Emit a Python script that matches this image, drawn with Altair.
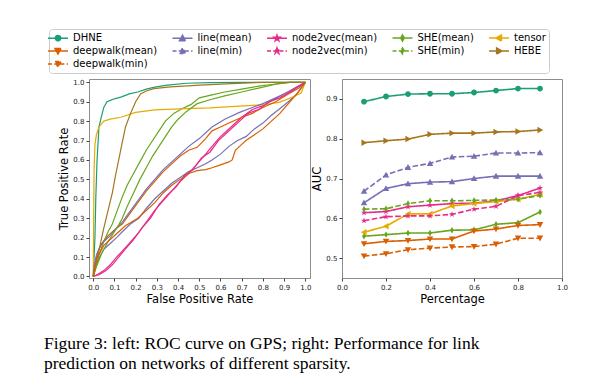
import altair as alt
import pandas as pd

# ---------------- data ----------------
methods = ["DHNE", "line(mean)", "node2vec(mean)", "SHE(mean)", "tensor",
           "deepwalk(mean)", "line(min)", "node2vec(min)", "SHE(min)", "HEBE",
           "deepwalk(min)"]
colors = ["#1b9e77", "#7570b3", "#e7298a", "#66a61e", "#e6ab02",
          "#d95f02", "#7570b3", "#e7298a", "#66a61e", "#a6761d",
          "#d95f02"]
markers = ["circle", "tri_up", "star", "thin_diamond", "tri_left",
           "tri_down", "tri_up", "star", "thin_diamond", "tri_right",
           "tri_down"]
dashed = [False, False, False, False, False,
          False, True, True, True, False,
          True]

# right panel: AUC vs percentage
percent = [0.1, 0.2, 0.3, 0.4, 0.5, 0.6, 0.7, 0.8, 0.9]
auc = {
    "DHNE":           [0.893, 0.906, 0.912, 0.913, 0.913, 0.916, 0.921, 0.926, 0.926],
    "HEBE":           [0.790, 0.795, 0.799, 0.811, 0.814, 0.814, 0.817, 0.818, 0.822],
    "line(min)":      [0.668, 0.709, 0.728, 0.738, 0.754, 0.756, 0.764, 0.764, 0.765],
    "line(mean)":     [0.639, 0.675, 0.687, 0.691, 0.692, 0.700, 0.706, 0.706, 0.706],
    "SHE(min)":       [0.623, 0.624, 0.637, 0.644, 0.644, 0.645, 0.646, 0.648, 0.657],
    "node2vec(mean)": [0.614, 0.617, 0.629, 0.633, 0.637, 0.638, 0.644, 0.657, 0.676],
    "node2vec(min)":  [0.594, 0.604, 0.606, 0.606, 0.610, 0.623, 0.630, 0.657, 0.665],
    "tensor":         [0.565, 0.580, 0.611, 0.611, 0.631, 0.637, 0.642, 0.648, 0.660],
    "SHE(mean)":      [0.555, 0.559, 0.563, 0.563, 0.570, 0.571, 0.585, 0.589, 0.616],
    "deepwalk(mean)": [0.536, 0.542, 0.544, 0.548, 0.548, 0.568, 0.573, 0.582, 0.584],
    "deepwalk(min)":  [0.505, 0.511, 0.521, 0.525, 0.528, 0.529, 0.535, 0.550, 0.550],
}

# left panel: ROC curves on GPS
roc_fpr = {
    "DHNE": [0, 0.008, 0.012, 0.018, 0.027, 0.04, 0.05, 0.065, 0.081, 0.1, 0.13, 0.17, 0.21, 0.25, 0.29, 0.35, 0.44, 0.55, 0.7, 1.0],
    "tensor": [0, 0.002, 0.004, 0.008, 0.015, 0.027, 0.05, 0.08, 0.13, 0.2, 0.29, 0.44, 0.55, 0.65, 0.75, 0.82, 0.88, 0.94, 0.98, 1.0],
    "HEBE": [0, 0.01, 0.03, 0.05, 0.07, 0.09, 0.105, 0.12, 0.135, 0.152, 0.176, 0.2, 0.223, 0.25, 0.286, 0.364, 0.505, 0.65, 0.8, 1.0],
    "SHE(mean)": [0, 0.01, 0.03, 0.05, 0.07, 0.09, 0.11, 0.137, 0.16, 0.19, 0.22, 0.25, 0.28, 0.31, 0.34, 0.38, 0.42, 0.46, 0.5, 0.56, 0.62, 0.7, 0.78, 0.85, 0.92, 1.0],
    "SHE(min)": [0, 0.015, 0.04, 0.07, 0.1, 0.121, 0.137, 0.16, 0.19, 0.22, 0.25, 0.28, 0.31, 0.34, 0.37, 0.4, 0.44, 0.49, 0.55, 0.62, 0.7, 0.78, 0.86, 0.93, 1.0],
    "line(min)": [0, 0.005, 0.015, 0.03, 0.05, 0.08, 0.11, 0.137, 0.17, 0.21, 0.25, 0.29, 0.33, 0.37, 0.41, 0.45, 0.5, 0.56, 0.62, 0.69, 0.75, 0.8, 0.86, 0.92, 0.97, 1.0],
    "line(mean)": [0, 0.01, 0.03, 0.05, 0.08, 0.11, 0.137, 0.175, 0.215, 0.25, 0.29, 0.33, 0.37, 0.41, 0.45, 0.49, 0.53, 0.56, 0.6, 0.64, 0.68, 0.72, 0.76, 0.8, 0.84, 0.875, 0.92, 0.96, 1.0],
    "deepwalk(mean)": [0, 0.01, 0.02, 0.04, 0.07, 0.1, 0.137, 0.17, 0.21, 0.25, 0.29, 0.33, 0.37, 0.41, 0.45, 0.49, 0.53, 0.56, 0.6, 0.64, 0.7, 0.75, 0.8, 0.86, 0.92, 0.97, 1.0],
    "deepwalk(min)": [0, 0.01, 0.02, 0.05, 0.08, 0.11, 0.15, 0.21, 0.25, 0.29, 0.33, 0.37, 0.41, 0.45, 0.49, 0.53, 0.56, 0.6, 0.64, 0.655, 0.67, 0.7, 0.72, 0.76, 0.8, 0.84, 0.88, 0.92, 0.96, 1.0],
    "node2vec(mean)": [0, 0.02, 0.05, 0.08, 0.11, 0.137, 0.17, 0.21, 0.25, 0.29, 0.33, 0.37, 0.41, 0.45, 0.49, 0.53, 0.56, 0.6, 0.65, 0.7, 0.75, 0.8, 0.85, 0.9, 0.95, 1.0],
    "node2vec(min)": [0, 0.03, 0.06, 0.09, 0.12, 0.15, 0.19, 0.23, 0.27, 0.31, 0.35, 0.39, 0.43, 0.47, 0.51, 0.55, 0.59, 0.63, 0.68, 0.73, 0.78, 0.83, 0.88, 0.93, 0.97, 1.0],
}
roc_tpr = {
    "DHNE": [0, 0.2, 0.4, 0.6, 0.77, 0.83, 0.872, 0.9, 0.907, 0.915, 0.924, 0.94, 0.95, 0.965, 0.975, 0.985, 0.995, 0.998, 1.0, 1.0],
    "tensor": [0, 0.3, 0.55, 0.68, 0.73, 0.77, 0.8, 0.81, 0.82, 0.845, 0.858, 0.864, 0.868, 0.875, 0.881, 0.886, 0.898, 0.924, 0.945, 1.0],
    "HEBE": [0, 0.05, 0.15, 0.25, 0.34, 0.43, 0.52, 0.6, 0.68, 0.77, 0.84, 0.9, 0.94, 0.955, 0.967, 0.976, 0.985, 0.993, 1.0, 1.0],
    "SHE(mean)": [0, 0.04, 0.12, 0.18, 0.23, 0.27, 0.33, 0.41, 0.47, 0.53, 0.59, 0.65, 0.7, 0.75, 0.8, 0.84, 0.865, 0.885, 0.92, 0.935, 0.95, 0.965, 0.98, 0.99, 1.0, 1.0],
    "SHE(min)": [0, 0.05, 0.12, 0.18, 0.23, 0.267, 0.3, 0.36, 0.43, 0.5, 0.56, 0.62, 0.67, 0.72, 0.77, 0.81, 0.85, 0.89, 0.91, 0.93, 0.95, 0.97, 0.99, 1.0, 1.0],
    "line(min)": [0, 0.06, 0.11, 0.15, 0.18, 0.21, 0.25, 0.28, 0.33, 0.39, 0.45, 0.5, 0.55, 0.59, 0.63, 0.67, 0.71, 0.77, 0.81, 0.845, 0.87, 0.89, 0.92, 0.95, 0.98, 1.0],
    "line(mean)": [0, 0.05, 0.1, 0.14, 0.17, 0.2, 0.23, 0.27, 0.3, 0.35, 0.4, 0.44, 0.48, 0.51, 0.54, 0.56, 0.58, 0.6, 0.63, 0.67, 0.7, 0.72, 0.76, 0.79, 0.83, 0.86, 0.9, 0.94, 1.0],
    "deepwalk(mean)": [0, 0.07, 0.12, 0.17, 0.21, 0.24, 0.27, 0.32, 0.38, 0.44, 0.49, 0.54, 0.58, 0.62, 0.65, 0.665, 0.71, 0.75, 0.77, 0.79, 0.82, 0.84, 0.87, 0.9, 0.94, 0.97, 1.0],
    "deepwalk(min)": [0, 0.06, 0.1, 0.16, 0.19, 0.22, 0.26, 0.3, 0.34, 0.38, 0.43, 0.47, 0.5, 0.53, 0.545, 0.55, 0.56, 0.575, 0.59, 0.6, 0.65, 0.68, 0.7, 0.73, 0.76, 0.8, 0.84, 0.89, 0.94, 1.0],
    "node2vec(mean)": [0, 0.01, 0.03, 0.06, 0.1, 0.13, 0.17, 0.22, 0.28, 0.34, 0.39, 0.44, 0.49, 0.53, 0.58, 0.63, 0.67, 0.72, 0.77, 0.82, 0.86, 0.88, 0.91, 0.94, 0.97, 1.0],
    "node2vec(min)": [0, 0.01, 0.03, 0.06, 0.1, 0.14, 0.19, 0.25, 0.3, 0.37, 0.42, 0.46, 0.52, 0.55, 0.61, 0.64, 0.7, 0.74, 0.79, 0.84, 0.86, 0.9, 0.92, 0.95, 0.98, 1.0],
}

roc_ticks = [0.0, 0.1, 0.2, 0.3, 0.4, 0.5, 0.6, 0.7, 0.8, 0.9, 1.0]
pct_ticks = [0.0, 0.2, 0.4, 0.6, 0.8, 1.0]
auc_ticks = [0.5, 0.6, 0.7, 0.8, 0.9]

caption = ["Figure 3: left: ROC curve on GPS; right: Performance for link",
           "prediction on networks of different sparsity."]

# ---------------- marker shapes (SVG paths, unit box) ----------------
STAR = [(0, -1), (0.223, -0.307), (0.951, -0.309), (0.361, 0.117), (0.588, 0.809),
        (0, 0.38), (-0.588, 0.809), (-0.361, 0.117), (-0.951, -0.309), (-0.223, -0.307)]
SHAPES = {
    "tri_up": [(-1, 0.8), (1, 0.8), (0, -1)],
    "tri_down": [(-1, -0.8), (1, -0.8), (0, 1)],
    "tri_left": [(0.8, -1), (0.8, 1), (-1, 0)],
    "tri_right": [(-0.8, -1), (-0.8, 1), (1, 0)],
    "thin_diamond": [(0, -1), (0.6, 0), (0, 1), (-0.6, 0)],
    "star": STAR,
}


def marker_path(name, s=1.0):
    if name == "circle":
        r = 0.9 * s
        return f"M{-r:.3f},0A{r:.3f},{r:.3f} 0 1,1 {r:.3f},0A{r:.3f},{r:.3f} 0 1,1 {-r:.3f},0Z"
    pts = SHAPES[name]
    return "M" + "L".join(f"{x * s:.3f},{y * s:.3f}" for x, y in pts) + "Z"


plot_shapes = [marker_path(m) for m in markers]
# legend handle: short line stub with the marker in the middle
legend_shapes = ["M-2,0H2" + marker_path(m, 0.6) for m in markers]
plot_dashes = [[5.5, 2.4] if d else [1, 0] for d in dashed]
legend_dashes = [[4, 2.2] if d else [1, 0] for d in dashed]

roc_rows = []
for m in methods:
    for i, (f, t) in enumerate(zip(roc_fpr[m], roc_tpr[m])):
        roc_rows.append({"method": m, "fpr": f, "tpr": t, "idx": i})
roc_df = pd.DataFrame(roc_rows)

auc_rows = []
for m in methods:
    for p, v in zip(percent, auc[m]):
        auc_rows.append({"method": m, "percentage": p, "auc": v})
auc_df = pd.DataFrame(auc_rows)

# ---------------- charts ----------------
color_scale = alt.Scale(domain=methods, range=colors)

legend_obj = alt.Legend(
    title=None, orient="none", legendX=-40, legendY=-50, columns=5,
    direction="horizontal",
    symbolSize=100, symbolStrokeWidth=1.5, symbolOpacity=1,
    labelFont="DejaVu Sans", labelFontSize=10, labelColor="black",
    labelOffset=9, columnPadding=11.5, rowPadding=1, padding=3,
    strokeColor="#cccccc", fillColor="white", cornerRadius=3, labelLimit=300,
)

axis_common = dict(labelOverlap=False, labelFlush=False)
x_roc = alt.X("fpr:Q", scale=alt.Scale(domain=[-0.02, 1.022], nice=False, zero=False),
              axis=alt.Axis(values=roc_ticks, format=".1f",
                            title="False Positive Rate", titlePadding=3, **axis_common))
y_roc = alt.Y("tpr:Q", scale=alt.Scale(domain=[-0.008, 1.017], nice=False, zero=False),
              axis=alt.Axis(values=roc_ticks, format=".1f",
                            title="True Positive Rate", titlePadding=3, **axis_common))

legend_layer = alt.Chart(roc_df).transform_filter("false").mark_point(filled=True).encode(
    x=x_roc, y=y_roc,
    fill=alt.Fill("method:N", scale=alt.Scale(domain=methods, range=colors), legend=legend_obj),
    stroke=alt.Stroke("method:N", scale=alt.Scale(domain=methods, range=colors), legend=legend_obj),
    shape=alt.Shape("method:N", scale=alt.Scale(domain=methods, range=legend_shapes), legend=legend_obj),
    strokeDash=alt.StrokeDash("method:N", scale=alt.Scale(domain=methods, range=legend_dashes), legend=legend_obj),
)

roc_lines = alt.Chart(roc_df).mark_line(strokeWidth=1.2, clip=True).encode(
    x=x_roc, y=y_roc,
    color=alt.Color("method:N", scale=color_scale, legend=None),
    order="idx:Q",
)

left = alt.layer(legend_layer, roc_lines).properties(width=221, height=199)

x_auc = alt.X("percentage:Q", scale=alt.Scale(domain=[0, 1], nice=False),
              axis=alt.Axis(values=pct_ticks, format=".1f",
                            title="Percentage", titlePadding=3, **axis_common))
y_auc = alt.Y("auc:Q", scale=alt.Scale(domain=[0.45, 0.95], nice=False, zero=False),
              axis=alt.Axis(values=auc_ticks, format=".1f",
                            title="AUC", titlePadding=3, **axis_common))

auc_lines = alt.Chart(auc_df).mark_line(strokeWidth=1.6).encode(
    x=x_auc, y=y_auc,
    color=alt.Color("method:N", scale=color_scale, legend=None),
    strokeDash=alt.StrokeDash("method:N", scale=alt.Scale(domain=methods, range=plot_dashes), legend=None),
)
auc_points = alt.Chart(auc_df).mark_point(filled=True, size=42, opacity=1).encode(
    x=x_auc, y=y_auc,
    color=alt.Color("method:N", scale=color_scale, legend=None),
    shape=alt.Shape("method:N", scale=alt.Scale(domain=methods, range=plot_shapes), legend=None),
)
right = alt.layer(auc_lines, auc_points).properties(width=220, height=199)

chart = alt.hconcat(left, right, spacing=32, bounds="flush").resolve_scale(
    color="independent", fill="independent", stroke="independent",
    shape="independent", strokeDash="independent",
).properties(
    title=alt.TitleParams(text=caption, orient="bottom", anchor="start",
                          font="Liberation Serif", fontSize=17.5, fontWeight="normal",
                          color="black", lineHeight=20, offset=30, dx=-4),
    padding={"left": 36, "top": 20, "right": 5, "bottom": 5},
    background="white",
).configure_view(
    stroke="#8c8c8c", strokeWidth=1
).configure_axis(
    labelFont="DejaVu Sans", labelFontSize=7, labelColor="#222",
    titleFont="DejaVu Sans", titleFontSize=11.5, titleFontWeight="normal",
    titleColor="black", grid=False, domain=False, tickSize=3, tickColor="#444",
    labelPadding=2,
)

chart.save("out.html", embed_options={"renderer": "svg", "actions": False})
